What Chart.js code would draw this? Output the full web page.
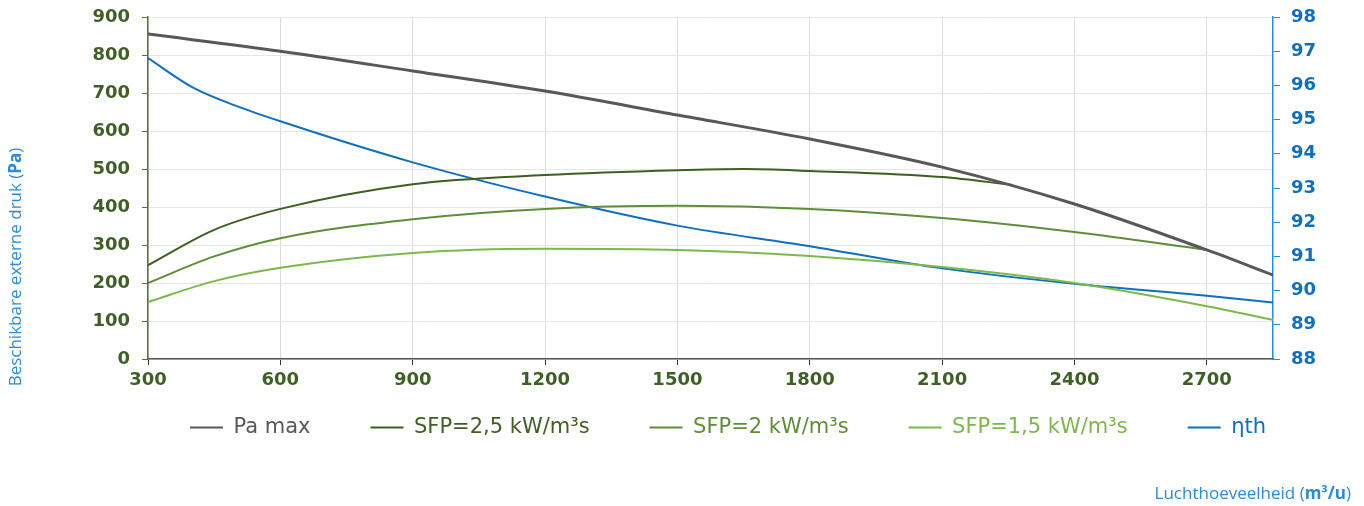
<!DOCTYPE html>
<html>
<head>
<meta charset="utf-8">
<script src="https://cdn.jsdelivr.net/npm/chart.js@4/dist/chart.umd.min.js"></script>
<style>
  html, body { margin: 0; padding: 0; background: #fff; }
  #wrap { width: 1364px; height: 506px; position: relative; }
</style>
</head>
<body>
<div id="wrap"><canvas id="chart"></canvas></div>
<script>
// Air flow (m3/u) and values
const flowPa = [300, 600, 900, 1200, 1500, 1800, 2100, 2400, 2700, 2850];
const paMax = [855, 810, 758, 705, 642, 579, 505, 408, 287, 221];

const flowSfp25 = [300, 450, 600, 900, 1200, 1500, 1650, 1800, 2100, 2260];
const sfp25 = [247, 340, 395, 460, 484, 497, 500, 495, 479, 458];

const flowSfp2 = [300, 450, 600, 900, 1200, 1500, 1800, 2100, 2400, 2700];
const sfp2 = [200, 270, 318, 368, 395, 403, 395, 371, 334, 287];

const flowSfp15 = [300, 450, 600, 900, 1200, 1500, 1800, 2100, 2400, 2700, 2850];
const sfp15 = [150, 205, 240, 279, 290, 287, 271, 242, 200, 139, 103];

const flowEta = [300, 400, 500, 600, 900, 1200, 1500, 1800, 2100, 2400, 2700, 2850];
const etaTh = [96.8, 95.95, 95.4, 94.95, 93.75, 92.75, 91.9, 91.3, 90.65, 90.2, 89.85, 89.65];

const seriesNames = ['Pa max', 'SFP=2,5 kW/m³s', 'SFP=2 kW/m³s', 'SFP=1,5 kW/m³s', 'ηth'];
const seriesColors = ['#58585a', '#3e5e22', '#5e8f36', '#7cb84a', '#0f6fc0'];

const tickFont = { family: 'DejaVu Sans', size: 18, weight: 'bold' };
const green = '#3f5f25';
const blue = '#0f6fc0';
const titleBlue = '#2b8bd6';

function pts(xs, ys) {
  return xs.map((x, i) => ({ x: x, y: ys[i] }));
}

function makeSet(i, xs, ys, axis, width) {
  return {
    label: seriesNames[i],
    data: pts(xs, ys),
    borderColor: seriesColors[i],
    backgroundColor: seriesColors[i],
    borderWidth: width,
    pointRadius: 0,
    cubicInterpolationMode: 'monotone',
    yAxisID: axis
  };
}

// legend sits closer to the axis than its item padding would give
const legendShift = {
  id: 'legendShift',
  afterLayout(chart) {
    chart.legend.top -= 34;
    chart.legend.bottom -= 34;
  }
};

// axis titles, with the bold unit part
const axisTitles = {
  id: 'axisTitles',
  afterDraw(chart) {
    const ctx = chart.ctx;
    ctx.save();
    ctx.fillStyle = titleBlue;
    ctx.textBaseline = 'middle';
    const normal = '17px "Open Sans"';
    const bold = 'bold 17px "Open Sans"';

    // left title, rotated
    const parts = [['Beschikbare externe druk (', normal], ['Pa', bold], [')', normal]];
    let total = 0;
    parts.forEach(p => { ctx.font = p[1]; total += ctx.measureText(p[0]).width; });
    ctx.translate(16, 267);
    ctx.rotate(-Math.PI / 2);
    let x = -total / 2;
    parts.forEach(p => {
      ctx.font = p[1];
      ctx.fillText(p[0], x, 0);
      x += ctx.measureText(p[0]).width;
    });
    ctx.setTransform(1, 0, 0, 1, 0, 0);

    // bottom title, right aligned
    const parts2 = [['Luchthoeveelheid (', normal], ['m³/u', bold], [')', normal]];
    total = 0;
    parts2.forEach(p => { ctx.font = p[1]; total += ctx.measureText(p[0]).width; });
    x = 1351 - total;
    parts2.forEach(p => {
      ctx.font = p[1];
      ctx.fillText(p[0], x, 494);
      x += ctx.measureText(p[0]).width;
    });
    ctx.restore();
  }
};

const ctx = document.getElementById('chart');
new Chart(ctx, {
  type: 'line',
  data: {
    datasets: [
      makeSet(0, flowPa, paMax, 'y', 3),
      makeSet(1, flowSfp25, sfp25, 'y', 2),
      makeSet(2, flowSfp2, sfp2, 'y', 2),
      makeSet(3, flowSfp15, sfp15, 'y', 2),
      makeSet(4, flowEta, etaTh, 'y2', 2)
    ]
  },
  options: {
    responsive: true,
    maintainAspectRatio: false,
    animation: false,
    layout: { padding: { top: 0, bottom: 24, left: 92, right: 0 } },
    plugins: {
      tooltip: { enabled: false },
      legend: {
        position: 'bottom',
        labels: {
          font: { family: 'DejaVu Sans', size: 21 },
          boxWidth: 33,
          boxHeight: 2,
          padding: 60,
          generateLabels(chart) {
            return chart.data.datasets.map((ds, i) => ({
              text: ds.label,
              fillStyle: ds.borderColor,
              strokeStyle: ds.borderColor,
              lineWidth: 0,
              fontColor: ds.borderColor,
              datasetIndex: i,
              hidden: false
            }));
          }
        }
      }
    },
    scales: {
      x: {
        type: 'linear',
        min: 300,
        max: 2850,
        afterFit(scale) { scale.height = 32; },
        ticks: {
          stepSize: 300,
          includeBounds: false,
          color: green,
          font: tickFont,
          padding: 5,
          callback: v => String(v)
        },
        grid: {
          color: '#dcdcdc',
          tickColor: '#333',
          tickLength: 6
        },
        border: { color: '#555', width: 1.5 }
      },
      y: {
        position: 'left',
        min: 0,
        max: 900,
        afterFit(scale) { scale.width = 56; scale.paddingTop = 17; },
        ticks: {
          stepSize: 50,
          color: green,
          font: tickFont,
          padding: 12,
          callback: v => (v % 100 === 0 ? String(v) : '')
        },
        grid: {
          color: c => (c.tick && c.tick.value % 100 === 0 ? '#e6e6e6' : 'rgba(0,0,0,0)'),
          tickColor: '#4e7a2a',
          tickLength: 6
        },
        border: { color: '#4e7a2a', width: 1.5 }
      },
      y2: {
        position: 'right',
        min: 88,
        max: 98,
        afterFit(scale) { scale.width = 91; scale.paddingTop = 17; },
        ticks: {
          stepSize: 1,
          color: blue,
          font: tickFont,
          padding: 11
        },
        grid: {
          drawOnChartArea: false,
          tickColor: titleBlue,
          tickLength: 7
        },
        border: { color: titleBlue, width: 1.5 }
      }
    }
  },
  plugins: [legendShift, axisTitles]
});
</script>
</body>
</html>
